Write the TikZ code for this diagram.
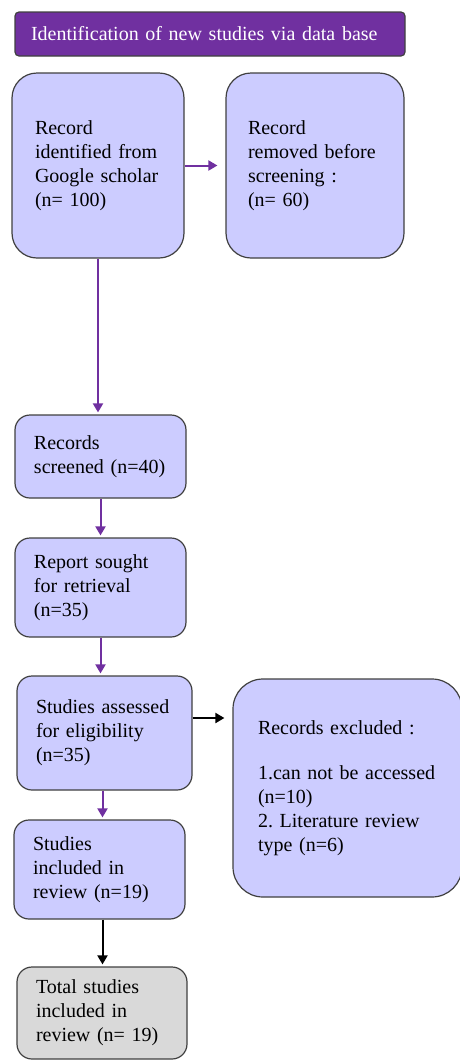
\documentclass[tikz,border=0pt]{standalone}
\usepackage{fontspec}
\setmainfont{Liberation Serif}
\usetikzlibrary{arrows.meta}
\definecolor{boxfill}{HTML}{CCCCFF}
\definecolor{boxline}{HTML}{404040}
\definecolor{hdrpurple}{HTML}{7030A0}
\definecolor{totalgray}{HTML}{D9D9D9}
\frenchspacing
\begin{document}
\begin{tikzpicture}[x=1pt,y=-1pt,
  stage/.style={draw=boxline,line width=1.2pt,fill=boxfill,rounded corners=15pt,
    align=left,inner xsep=19pt,inner ysep=0pt,font=\fontsize{20}{24}\selectfont},
  flow/.style={draw=hdrpurple,line width=2pt,-{Triangle[length=9pt,width=10pt]},shorten >=2pt},
  plainflow/.style={draw=black,line width=2pt,-{Triangle[length=9pt,width=10pt]},shorten >=2pt}]
\useasboundingbox (0,0) rectangle (459,1061);
\node[stage,fill=hdrpurple,text=white,rounded corners=4pt,inner xsep=16pt,
  text width=358pt,minimum height=44pt] (hdr) at (210,34) {Identification of new studies via data base};
\node[stage,rounded corners=25pt,inner xsep=23pt,text width=126pt,minimum height=185pt] (found) at (98,165.5) {Record\\
identified from\\
Google scholar\\
(n= 100)};
\node[stage,rounded corners=25pt,inner xsep=22pt,text width=134pt,minimum height=185pt] (removed) at (315,165.5) {Record\\
removed before\\
screening :\\
(n= 60)};
\draw[flow,shorten >=8pt] (found) -- (removed);
\node[stage,text width=133pt,minimum height=83pt] (screened) at (100.5,456.5) {Records\\
screened (n=40)};
\draw[flow] (found.south) -- (found.south |- screened.north);
\node[stage,text width=133pt,minimum height=99pt] (sought) at (100.5,587.5) {Report sought\\
for retrieval\\
(n=35)};
\draw[flow] (screened.south) -- (screened.south |- sought.north);
\node[stage,text width=137pt,minimum height=114pt] (assessed) at (104.5,733) {Studies assessed\\
for eligibility\\
(n=35)};
\draw[flow] (sought.south) -- (sought.south |- assessed.north);
\node[stage,rounded corners=30pt,inner xsep=25pt,text width=179pt,minimum height=218pt] (excluded) at (347.5,788) {Records excluded :\\[21pt]
1.can not be accessed\\
(n=10)\\
2. Literature review\\
type (n=6)};
\coordinate (exc) at ([yshift=15pt]assessed.east);
\draw[plainflow,shorten >=8pt] (exc) -- (exc -| excluded.west);
\node[stage,text width=133pt,minimum height=99pt] (included) at (99.5,869.5) {Studies\\
included in\\
review (n=19)};
\draw[flow] ([xshift=-2pt]assessed.south) -- ([xshift=-2pt]assessed.south |- included.north);
\node[stage,fill=totalgray,text width=132pt,minimum height=92pt] (total) at (102,1013) {Total studies\\
included in\\
review (n= 19)};
\draw[plainflow] ([xshift=3pt]included.south) -- ([xshift=3pt]included.south |- total.north);
\end{tikzpicture}
\end{document}
